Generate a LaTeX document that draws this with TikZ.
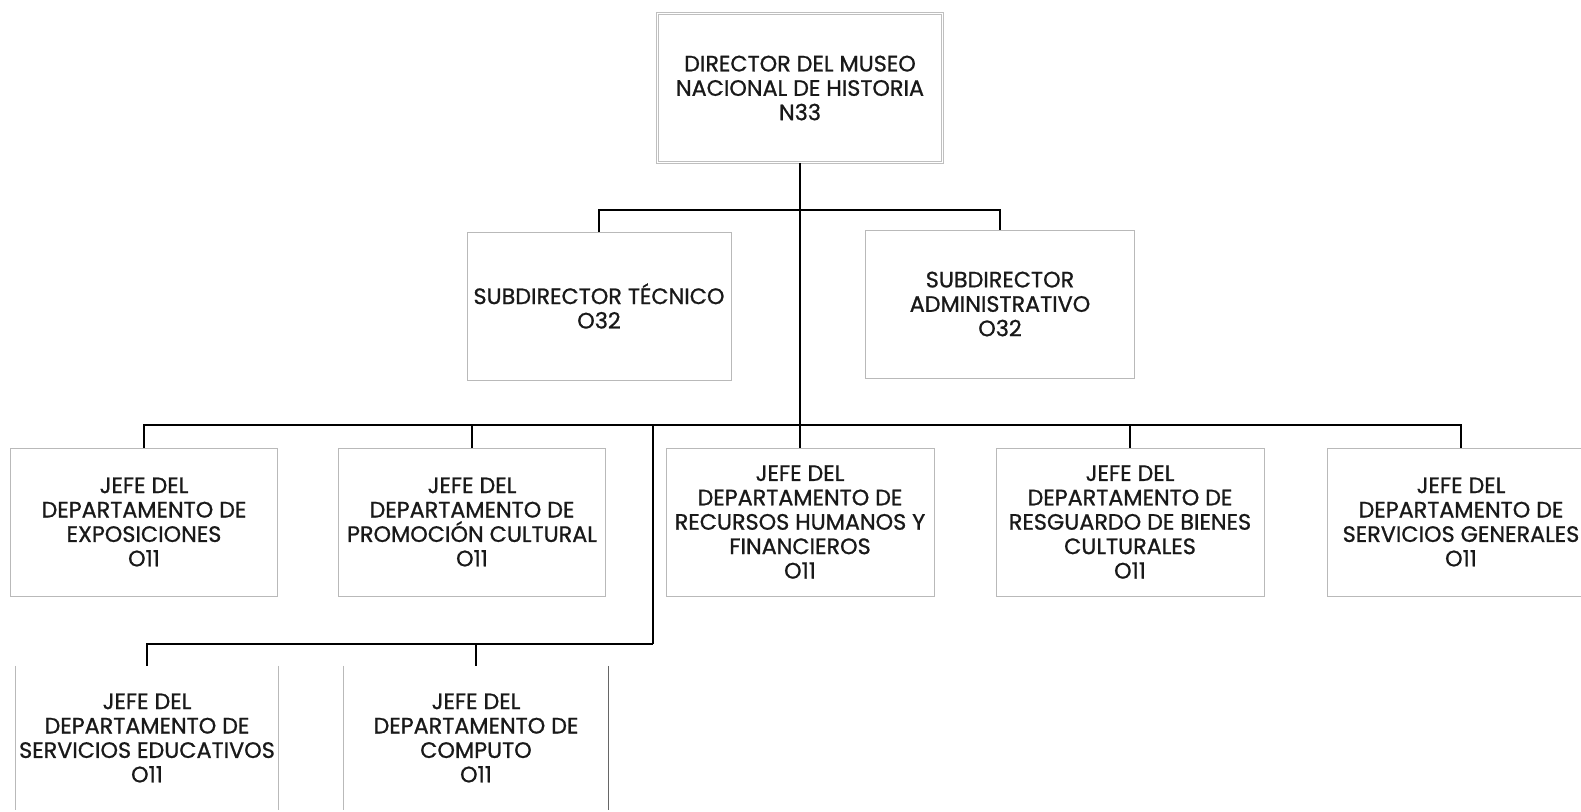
\documentclass[tikz,border=0pt]{standalone}
\usepackage{fontspec}
\setmainfont{Poppins}[FakeBold=0.9]
\newcommand\boxfont{\fontsize{22.3}{24.4}\selectfont}
\begin{document}
\begin{tikzpicture}[x=1pt,y=1pt,
  box/.style={draw=gray!55, line width=0.8pt, align=center, inner sep=0pt, font=\boxfont, text=black!90},
  dbox/.style={box, double=white, double distance=1.6pt, draw=gray!50, line width=0.6pt},
  txt/.style={align=center, inner sep=0pt, font=\boxfont, text=black!90},
  side/.style={draw=gray!55, line width=0.8pt},
  conn/.style={line width=2.8pt, black}]
\useasboundingbox (0,0) rectangle (1581,-811);
\fill[white] (0,0) rectangle (1581,-811);
\begin{scope}
\clip (0,0) rectangle (1581,-811);
% top
\node[dbox, minimum width=285pt, minimum height=149pt] (dir) at (800,-88) {DIRECTOR DEL MUSEO\\NACIONAL DE HISTORIA\\N33};
% subdirectors
\node[box, minimum width=264pt, minimum height=148pt] (subT) at (599,-306) {SUBDIRECTOR TÉCNICO\\O32};
\node[box, minimum width=269pt, minimum height=148pt] (subA) at (1000,-304) {SUBDIRECTOR\\ADMINISTRATIVO\\O32};
% row of departments
\node[box, minimum width=267pt, minimum height=148pt] (b1) at (144,-522) {JEFE DEL\\DEPARTAMENTO DE\\EXPOSICIONES\\O11};
\node[box, minimum width=267pt, minimum height=148pt] (b2) at (472,-522) {JEFE DEL\\DEPARTAMENTO DE\\PROMOCIÓN CULTURAL\\O11};
\node[box, minimum width=268pt, minimum height=148pt] (b3) at (800,-522) {JEFE DEL\\DEPARTAMENTO DE\\RECURSOS HUMANOS Y\\FINANCIEROS\\O11};
\node[box, minimum width=268pt, minimum height=148pt] (b4) at (1130,-522) {JEFE DEL\\DEPARTAMENTO DE\\RESGUARDO DE BIENES\\CULTURALES\\O11};
\node[box, minimum width=268pt, minimum height=148pt] (b5) at (1461,-522) {JEFE DEL\\DEPARTAMENTO DE\\SERVICIOS GENERALES\\O11};
% bottom departments (cut off by the page)
\node[txt, minimum width=263pt, minimum height=144pt] (b6) at (147,-738) {JEFE DEL\\DEPARTAMENTO DE\\SERVICIOS EDUCATIVOS\\O11};
\node[txt, minimum width=264pt, minimum height=144pt] (b7) at (476,-738) {JEFE DEL\\DEPARTAMENTO DE\\COMPUTO\\O11};
\draw[side] (b6.north west) -- (b6.south west) ++(0,-10);
\draw[side] (b6.north east) -- (b6.south east);
\draw[side] (b7.north west) -- (b7.south west);
\draw[side, draw=gray!80!black, line width=1.2pt] (b7.north east) -- (b7.south east);
% junctions
\coordinate (j1) at (800,-210);
\coordinate (j2) at (800,-425);
\coordinate (j3) at (653,-425);
\coordinate (j4) at (653,-644);
% connectors
\draw[conn] (dir.south) -- (j2);
\draw[conn] (subT.north) |- (j1) -| (subA.north);
\draw[conn] (b1.north) |- (j2) -| (b5.north);
\draw[conn] (b2.north) -- (b2.north |- j2);
\draw[conn] (b3.north) -- (b3.north |- j2);
\draw[conn] (b4.north) -- (b4.north |- j2);
\draw[conn] (j3) -- (j4);
\draw[conn] (b6.north) |- (j4);
\draw[conn] (b7.north) -- (b7.north |- j4);
\end{scope}
\end{tikzpicture}
\end{document}
